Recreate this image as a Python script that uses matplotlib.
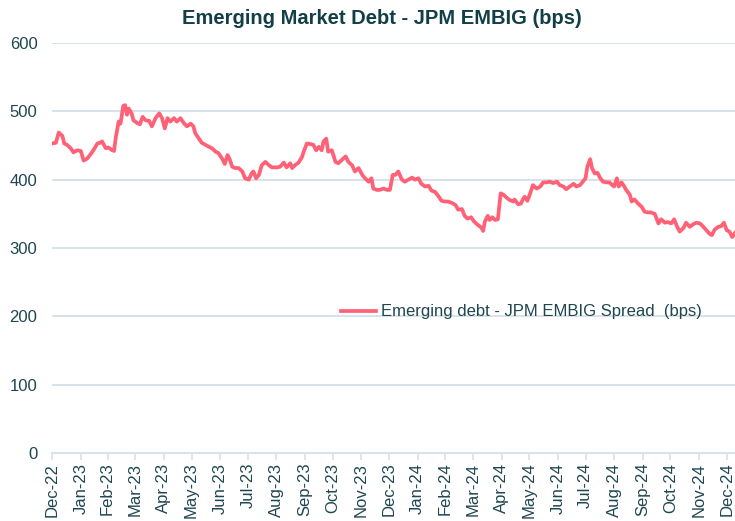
import matplotlib
matplotlib.use('Agg')
import numpy as np
import pandas as pd
import matplotlib.pyplot as plt
import matplotlib.dates as mdates

start_date = '2022-12-30'
days = [
    0, 4, 7, 11, 13, 16, 20, 23, 27, 31, 34, 38, 42, 45, 49, 52, 54, 58, 61, 65,
    67, 69, 72, 74, 77, 79, 81, 83, 86, 88, 92, 95, 98, 101, 105, 108, 112, 116, 119, 122,
    125, 128, 132, 135, 139, 143, 146, 150, 153, 155, 159, 162, 166, 170, 173, 177, 180, 184, 187, 190,
    192, 195, 198, 202, 206, 209, 213, 216, 218, 221, 224, 227, 231, 235, 238, 244, 247, 251, 254, 258,
    260, 263, 267, 271, 272, 276, 280, 283, 286, 289, 292, 294, 297, 299, 303, 307, 310, 314, 318, 321,
    325, 328, 332, 336, 339, 343, 346, 348, 352, 355, 359, 363, 366, 369, 372, 375, 379, 382, 386, 390,
    393, 397, 400, 404, 408, 411, 415, 419, 422, 426, 429, 433, 437, 440, 444, 447, 450, 454, 457, 461,
    465, 467, 469, 472, 474, 477, 480, 483, 486, 489, 493, 496, 500, 501, 505, 508, 510, 512, 515, 518,
    521, 525, 529, 532, 536, 539, 543, 547, 550, 554, 557, 561, 565, 568, 572, 575, 578, 580, 583, 585,
    588, 591, 594, 597, 601, 604, 607, 609, 612, 614, 617, 620, 622, 626, 628, 631, 635, 639, 642, 646,
    649, 653, 657, 660, 664, 667, 671, 674, 677, 680, 684, 687, 691, 695, 698, 702, 705, 709, 713, 715,
    718, 722, 725, 728, 731, 734, 737, 740,
]
spread = [
    453, 454, 469, 464, 453, 451, 446, 440, 443, 442, 428, 431, 438, 444, 453, 454, 456, 446, 447, 443,
    442, 463, 485, 482, 508, 509, 495, 504, 497, 487, 483, 481, 492, 487, 486, 478, 490, 497, 490, 475,
    490, 485, 490, 485, 490, 482, 478, 482, 478, 468, 460, 454, 451, 448, 446, 441, 439, 431, 423, 436,
    431, 419, 417, 417, 412, 402, 400, 409, 412, 402, 407, 421, 426, 421, 418, 418, 419, 425, 418, 424,
    417, 421, 425, 434, 439, 453, 452, 451, 443, 448, 443, 456, 460, 441, 443, 426, 424, 429, 434, 426,
    421, 412, 417, 407, 402, 397, 402, 387, 385, 385, 387, 385, 385, 407, 407, 412, 400, 397, 400, 403,
    400, 402, 394, 390, 391, 384, 382, 375, 369, 368, 368, 366, 363, 356, 357, 347, 343, 345, 339, 334,
    330, 325, 339, 347, 341, 345, 341, 342, 380, 378, 373, 370, 368, 371, 364, 365, 371, 375, 369, 380,
    392, 387, 390, 396, 396, 397, 395, 397, 392, 390, 386, 390, 394, 390, 392, 397, 402, 419, 430, 417,
    409, 410, 402, 397, 396, 396, 392, 390, 402, 390, 396, 390, 385, 378, 368, 371, 365, 360, 353, 352,
    352, 350, 336, 342, 337, 338, 336, 342, 332, 324, 329, 337, 331, 335, 337, 336, 332, 326, 320, 319,
    327, 331, 332, 337, 326, 324, 316, 322,
]
series_label = 'Emerging debt - JPM EMBIG Spread  (bps)'
title = 'Emerging Market Debt - JPM EMBIG (bps)'
y_ticks = [0, 100, 200, 300, 400, 500, 600]

plt.rcParams['font.family'] = ['Liberation Sans', 'DejaVu Sans']
text_col = '#1f4650'
title_col = '#123e48'
grid_col = '#d6e2ea'
line_col = '#ff6176'

t0 = pd.Timestamp(start_date)
dates = [t0 + pd.Timedelta(days=d) for d in days]
month_ticks = [t0 + pd.DateOffset(months=i) for i in range(25)]

fig = plt.figure(figsize=(7.35, 5.21), dpi=100)
ax = fig.add_axes([0.0707, 0.1305, 0.9293, 0.787])

ax.plot(dates, spread, color=line_col, linewidth=2.7, label=series_label,
        solid_joinstyle='round', zorder=3)

ax.set_ylim(0, 600)
ax.set_yticks(y_ticks)
ax.set_xlim(t0 - pd.Timedelta(days=0.3), t0 + pd.Timedelta(days=740))
ax.set_xticks(month_ticks)
ax.xaxis.set_major_formatter(mdates.DateFormatter('%b-%y'))
plt.setp(ax.get_xticklabels(), rotation=90)

ax.grid(axis='y', color=grid_col, linewidth=1.4)
ax.set_axisbelow(True)
for s in ['top', 'right', 'left']:
    ax.spines[s].set_visible(False)
ax.spines['bottom'].set_color(grid_col)
ax.spines['bottom'].set_linewidth(1.4)
ax.tick_params(axis='y', length=0, labelsize=12, labelcolor=text_col, pad=10.5)
ax.tick_params(axis='x', length=5, width=1.2, color=grid_col, labelsize=12,
               labelcolor=text_col, pad=2)

# title sits a little left of the plot centre
fig.text(382 / 735, 1 - 18 / 521, title, fontsize=14.5, fontweight='bold',
         color=title_col, ha='center', va='center')

leg = ax.legend(loc='center', bbox_to_anchor=(0.687, 0.344), frameon=False,
                fontsize=12, handlelength=2.1, handletextpad=0.3)
for t in leg.get_texts():
    t.set_color(text_col)

plt.savefig('out.png', dpi=100)
plt.close(fig)
